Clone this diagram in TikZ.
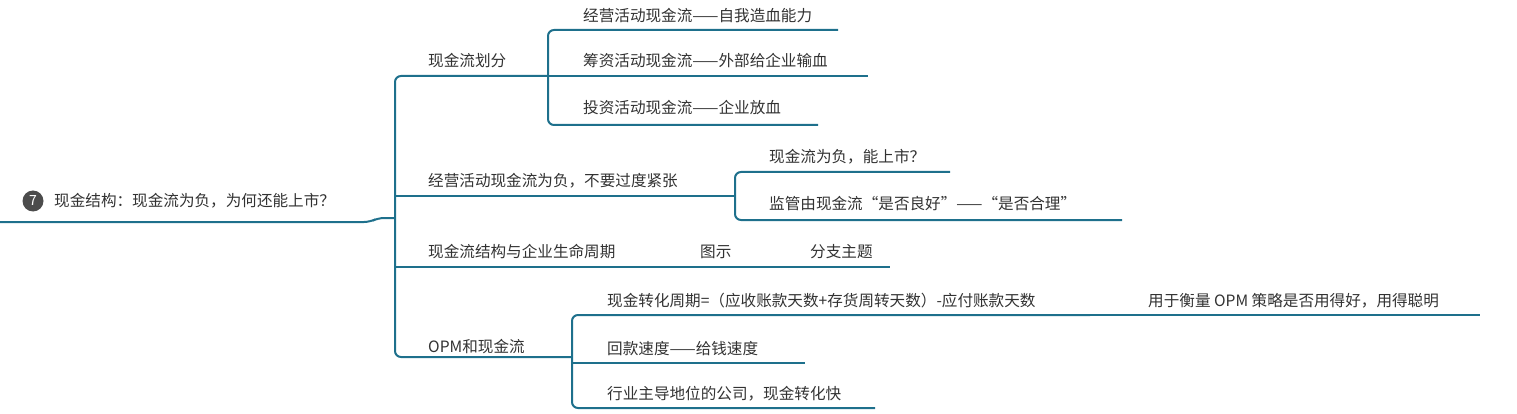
\documentclass[tikz,border=0pt]{standalone}
\usepackage{fontspec}
\setmainfont{Noto Sans CJK SC}
\begin{document}
\begin{tikzpicture}[x=1pt,y=-1pt]
\definecolor{ln}{RGB}{30,112,140}
\definecolor{tx}{RGB}{50,50,50}
\tikzset{lbl/.style={anchor=base west,text=tx,inner sep=0pt,font=\fontsize{15.6}{18}\selectfont},
 br/.style={draw=ln,line width=2pt,rounded corners=6pt}}
\useasboundingbox (0,0) rectangle (1517,414);
% root
\node[circle,fill=black!70,text=white,inner sep=0pt,minimum size=21pt,font=\fontsize{14}{16}\selectfont] (c7) at (33,201) {7};
\node[lbl] (root) at (54,207) {现金结构：现金流为负，为何还能上市？};
\coordinate (r0) at (0,222);
\coordinate (r1) at (370,222);
% level1
\node[lbl] (a) at (428,67) {现金流划分};
\node[lbl] (b) at (428,186) {经营活动现金流为负，不要过度紧张};
\node[lbl] (c) at (428,257) {现金流结构与企业生命周期};
\node[lbl] (d) at (428,352) {OPM和现金流};
\draw[br] (r0) -- (r1) -- (378,218) -- (395,218);
\draw[br] (548,76) -- (395,76) -- (395,357) -- (572,357);
\draw[br] (395,196) -- (712,196);
\draw[br] (395,267) -- (640,267);
% a children
\node[lbl] (a1) at (583,22) {经营活动现金流——自我造血能力};
\node[lbl] (a2) at (583,67) {筹资活动现金流——外部给企业输血};
\node[lbl] (a3) at (583,114) {投资活动现金流——企业放血};
\draw[br] (838,30) -- (548,30) -- (548,125) -- (818,125);
\draw[br] (548,76) -- (868,76);
% b children
\node[lbl] (b1) at (769,163) {现金流为负，能上市？};
\node[lbl] (b2) at (769,210) {监管由现金流“是否良好”——“是否合理”};
\draw[br] (712,196) -- (735,196);
\draw[br] (950,172) -- (735,172) -- (735,220) -- (1122,220);
% c chain
\node[lbl] (c1) at (700,257) {图示};
\node[lbl] (c2) at (810,257) {分支主题};
\draw[br] (640,267) -- (666,267) -- (750,267);
\draw[br] (750,267) -- (775,267) -- (890,267);
% d children
\node[lbl] (d1) at (607,306) {现金转化周期=（应收账款天数+存货周转天数）-应付账款天数};
\node[lbl] (d2) at (607,354) {回款速度——给钱速度};
\node[lbl] (d3) at (607,399) {行业主导地位的公司，现金转化快};
\node[lbl] (d11) at (1148,306) {用于衡量 OPM 策略是否用得好，用得聪明};
\draw[br] (1090,315) -- (572,315) -- (572,408) -- (875,408);
\draw[br] (572,363) -- (805,363);
\draw[br] (1090,315) -- (1115,315) -- (1480,315);
\end{tikzpicture}
\end{document}
